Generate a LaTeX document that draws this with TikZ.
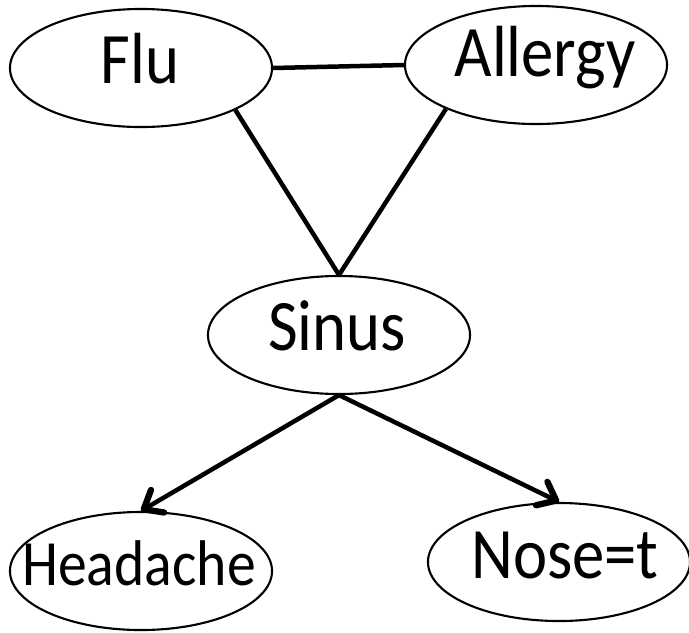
\documentclass[tikz,border=0pt]{standalone}
\usepackage{fontspec}
\setmainfont{Carlito}
\usetikzlibrary{shapes.geometric, arrows.meta}
\newcommand{\tallword}[1]{\scalebox{1}[1.12]{#1}}
\begin{document}
\begin{tikzpicture}[x = 0.025cm, y = -0.025cm,
	var/.style = {draw, ellipse, line width = 1.5pt, inner sep = 0pt, minimum width = 6.55cm, minimum height = 2.95cm},
	vartext/.style = {anchor = base, inner sep = 0pt, font = \fontsize{46}{52}\selectfont},
	link/.style = {line width = 3.2pt},
	cause/.style = {link, -{Straight Barb[length = 4mm, width = 6.5mm, line width = 4.5pt, round]}}]
\useasboundingbox (0,0) rectangle (689,632);
\node[var] (flu) at (141,68) {};
\node[var] (allergy) at (536,65) {};
\node[var] (sinus) at (339,335) {};
\node[var] (headache) at (141,571) {};
\node[var] (nose) at (559,562) {};
\node[vartext] (flutext) at (140,83) {\tallword{Flu}};
\node[vartext] (allergytext) at (545,76) {\tallword{Allergy}};
\node[vartext] (sinustext) at (337,350) {\tallword{Sinus}};
\node[vartext, font = \fontsize{41}{47}\selectfont] (headachetext) at (139,585) {\tallword{Headache}};
\node[vartext] (nosetext) at (565,578) {\tallword{Nose=t}};
\draw[link] (flu.east) -- (allergy.west);
\draw[link] (flu.-24) -- (sinus.north);
\draw[link] (allergy.-154) -- (sinus.north);
\draw[cause] (sinus.south) -- (headache.north);
\draw[cause] (sinus.south) -- (nose.north);
\end{tikzpicture}
\end{document}
